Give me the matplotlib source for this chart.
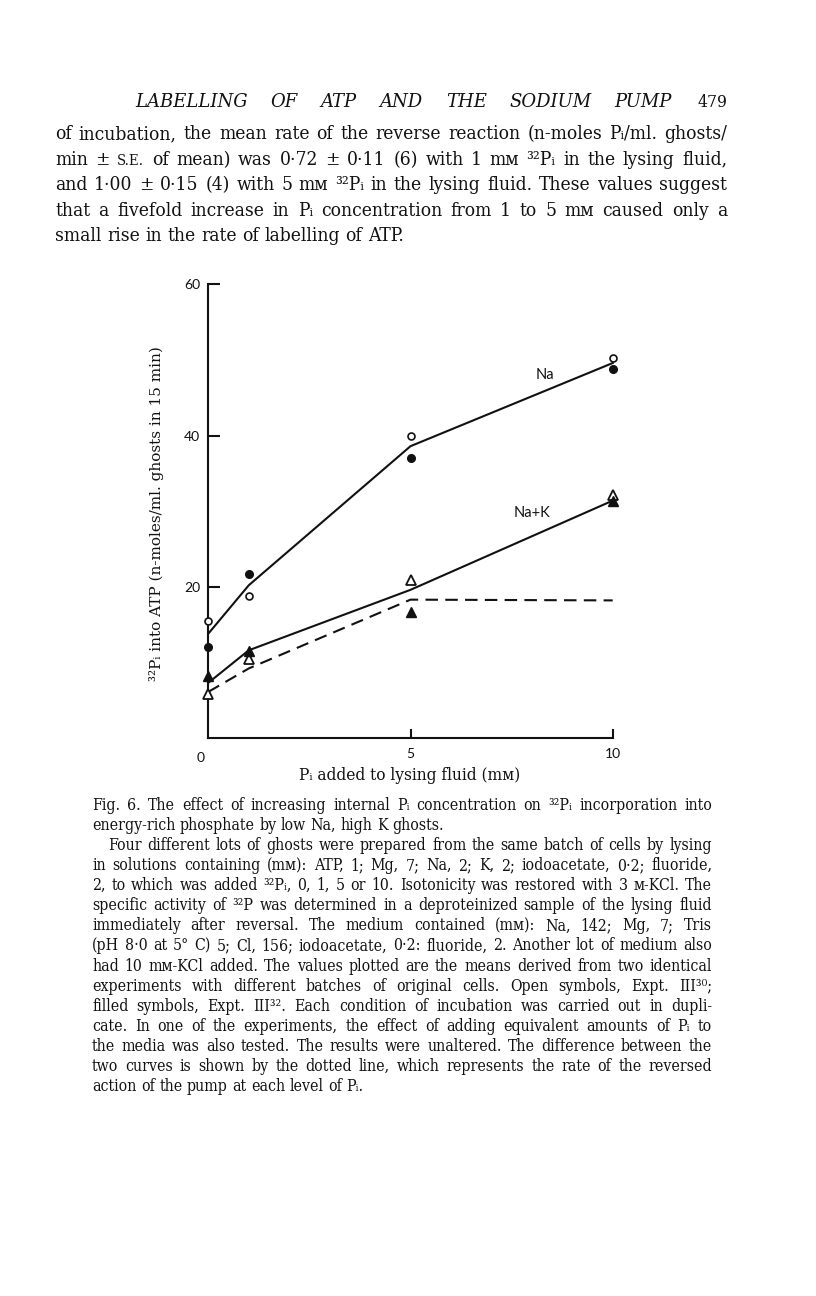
import matplotlib
matplotlib.use("Agg")
import matplotlib.pyplot as plt
from matplotlib.transforms import Affine2D
from matplotlib import font_manager as fm

# ---------------- data ----------------
x_pi = [0, 1, 5, 10]
na_open = [15.5, 18.8, 40.0, 50.3]
na_filled = [12.1, 21.7, 37.1, 48.8]
na_curve = [13.8, 20.2, 38.6, 49.6]
nak_open = [5.8, 10.4, 20.9, 32.2]
nak_filled = [8.2, 11.5, 16.7, 31.3]
nak_curve = [7.3, 11.6, 19.6, 31.4]
diff_curve = [6.1, 9.2, 18.3, 18.2]

y_ticks = [20, 40, 60]
y_ticklabels = ["20", "40", "60"]
x_ticks = [5, 10]
x_ticklabels = ["5", "10"]

header = "LABELLING OF ATP AND THE SODIUM PUMP"
page_no = "479"
body_lines = [
    "of incubation, the mean rate of the reverse reaction (n-moles Pᵢ/ml. ghosts/",
    "min ± §S.E. of mean) was 0·72 ± 0·11 (6) with 1 mᴍ ³²Pᵢ in the lysing fluid,",
    "and 1·00 ± 0·15 (4) with 5 mᴍ ³²Pᵢ in the lysing fluid. These values suggest",
    "that a fivefold increase in Pᵢ concentration from 1 to 5 mᴍ caused only a",
    "small rise in the rate of labelling of ATP.",
]
body_just = [True, True, True, True, False]

caption_lines = [
    "Fig. 6. The effect of increasing internal Pᵢ concentration on ³²Pᵢ incorporation into",
    "energy-rich phosphate by low Na, high K ghosts.",
    "Four different lots of ghosts were prepared from the same batch of cells by lysing",
    "in solutions containing (mᴍ): ATP, 1; Mg, 7; Na, 2; K, 2; iodoacetate, 0·2; fluoride,",
    "2, to which was added ³²Pᵢ, 0, 1, 5 or 10. Isotonicity was restored with 3 ᴍ-KCl. The",
    "specific activity of ³²P was determined in a deproteinized sample of the lysing fluid",
    "immediately after reversal. The medium contained (mᴍ): Na, 142; Mg, 7; Tris",
    "(pH 8·0 at 5° C) 5; Cl, 156; iodoacetate, 0·2: fluoride, 2. Another lot of medium also",
    "had 10 mᴍ-KCl added. The values plotted are the means derived from two identical",
    "experiments with different batches of original cells. Open symbols, Expt. III³⁰;",
    "filled symbols, Expt. III³². Each condition of incubation was carried out in dupli-",
    "cate. In one of the experiments, the effect of adding equivalent amounts of Pᵢ to",
    "the media was also tested. The results were unaltered. The difference between the",
    "two curves is shown by the dotted line, which represents the rate of the reversed",
    "action of the pump at each level of Pᵢ.",
]
caption_just = [True, False] + [True] * 12 + [False]
caption_indent = [0, 0, 16] + [0] * 12

# ---------------- figure ----------------
W, H = 816, 1296
fig = plt.figure(figsize=(W / 100, H / 100), dpi=100)
fig.patch.set_facecolor("white")
pix = Affine2D().scale(1 / W, -1 / H).translate(0, 1) + fig.transFigure
renderer = fig.canvas.get_renderer()

SERIF = ["DejaVu Serif", "DejaVu Sans"]
SANS = ["Lato", "DejaVu Sans"]
try:
    _p = fm.findfont(fm.FontProperties(family="DejaVu Serif", stretch="condensed"),
                     fallback_to_default=False)
    COND = "condensed" if "ondensed" in _p else "normal"
except Exception:
    COND = "normal"
INK = "#111111"


def word_artists(line, size, family, style="normal", stretch=COND):
    arts = []
    for w in line.split(" "):
        if not w:
            continue
        s = size
        if w.startswith("§"):
            w = w[1:]
            s = size * 0.78
        t = fig.text(0, 0, w, fontsize=s, family=family, style=style,
                     fontstretch=stretch, transform=pix, va="baseline",
                     ha="left", color=INK)
        arts.append(t)
    return arts


def space_width(size, family, style="normal", stretch=COND):
    a = fig.text(0, 0, "a a", fontsize=size, family=family, style=style,
                 fontstretch=stretch, transform=pix)
    b = fig.text(0, 0, "aa", fontsize=size, family=family, style=style,
                 fontstretch=stretch, transform=pix)
    sp = a.get_window_extent(renderer).width - b.get_window_extent(renderer).width
    a.remove()
    b.remove()
    return sp


def natural_width(line, size, family, style="normal", stretch=COND):
    arts = word_artists(line, size, family, style, stretch)
    ws = [a.get_window_extent(renderer).width for a in arts]
    for a in arts:
        a.remove()
    return sum(ws) + space_width(size, family, style, stretch) * (len(ws) - 1)


def set_paragraph(lines, just, indents, x0, x1, y0, dy, size, family,
                  style="normal", stretch=COND):
    space = space_width(size, family, style, stretch)
    for i, line in enumerate(lines):
        arts = word_artists(line, size, family, style, stretch)
        ws = [a.get_window_extent(renderer).width for a in arts]
        left = x0 + indents[i]
        avail = x1 - left
        if just[i] and len(arts) > 1:
            gap = (avail - sum(ws)) / (len(arts) - 1)
        else:
            gap = space
        x = left
        y = y0 + i * dy
        for a, w in zip(arts, ws):
            a.set_position((x, y))
            x += w + gap


def fit_size(lines, just, indents, width, family, base=10.0, frac=0.975):
    worst = 0
    for i, line in enumerate(lines):
        if just[i]:
            w = natural_width(line, base, family)
            worst = max(worst, w / (width - indents[i]))
    return base * frac / worst


# running head
set_paragraph([header], [True], [0], 135, 672, 107, 0, 13, SERIF,
              style="italic", stretch="normal")
fig.text(727, 107, page_no, fontsize=12.5, family=SERIF, fontstretch=COND,
         transform=pix, ha="right", va="baseline", color=INK)

# body
bsize = fit_size(body_lines, body_just, [0] * 5, 727 - 55, SERIF)
set_paragraph(body_lines, body_just, [0] * 5, 55, 727, 139, 25.6, bsize, SERIF)

# caption
csize = fit_size(caption_lines, caption_just, caption_indent, 712 - 92, SERIF)
set_paragraph(caption_lines, caption_just, caption_indent, 92, 712, 810, 20.07,
              csize, SERIF)

# ---------------- chart ----------------
left_px, right_px, bot_px, top_px = 208.3, 612.7, 738.0, 284.4
ax = fig.add_axes([left_px / W, 1 - bot_px / H, (right_px - left_px) / W,
                   (bot_px - top_px) / H])
ax.set_xlim(0, 10)
ax.set_ylim(0, 60)
for s in ["top", "right"]:
    ax.spines[s].set_visible(False)
for s in ["left", "bottom"]:
    ax.spines[s].set_linewidth(1.5)
    ax.spines[s].set_color(INK)

ax.set_yticks(y_ticks)
ax.set_yticklabels(y_ticklabels, family=SANS, fontsize=10)
ax.set_xticks(x_ticks)
ax.set_xticklabels(x_ticklabels, family=SANS, fontsize=10)
ax.tick_params(axis="y", direction="in", length=8.5, width=1.5, pad=6,
               colors=INK)
ax.tick_params(axis="x", direction="in", length=6.5, width=1.5, pad=7,
               colors=INK)
ax.text(-0.2, -0.03, "0", transform=ax.get_xaxis_transform(), family=SANS,
        fontsize=10, ha="center", va="top", color=INK)

lw = 1.5
ax.plot(x_pi, na_curve, color=INK, lw=lw, zorder=2, clip_on=False)
ax.plot(x_pi, nak_curve, color=INK, lw=lw, zorder=2, clip_on=False)
ax.plot(x_pi, diff_curve, color=INK, lw=lw, zorder=2, clip_on=False,
        dashes=(6, 3.5))

ax.plot(x_pi, na_open, "o", ms=5, mfc="white", mec=INK, mew=1.2,
        zorder=3, clip_on=False)
ax.plot(x_pi, na_filled, "o", ms=5.5, mfc=INK, mec=INK,
        zorder=3, clip_on=False)
ax.plot(x_pi, nak_open, "^", ms=7.5, mfc="white", mec=INK, mew=1.3,
        zorder=3, clip_on=False)
ax.plot(x_pi, nak_filled, "^", ms=7.5, mfc=INK, mec=INK,
        zorder=4, clip_on=False)

ax.text(8.33, 48.0, "Na", family=SANS, fontsize=10.5, ha="center",
        va="center", color=INK)
ax.text(8.0, 29.7, "Na+K", family=SANS, fontsize=10.5, ha="center",
        va="center", color=INK)

# axis labels
fig.text(410, 775, "Pᵢ added to lysing fluid (mᴍ)", fontsize=11.2,
         family=SERIF, transform=pix, ha="center", va="center", color=INK)
fig.text(157, 514, "³²Pᵢ into ATP (n-moles/ml. ghosts in 15 min)",
         fontsize=11, family=SERIF, transform=pix, ha="center",
         va="center", rotation=90, color=INK)

fig.savefig("out.png", dpi=100, facecolor="white")
